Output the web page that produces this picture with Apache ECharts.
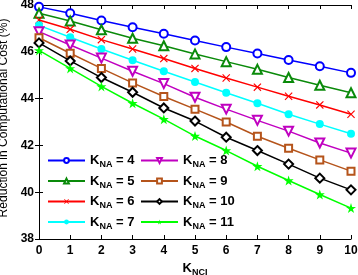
<!DOCTYPE html>
<html lang="en">
<head>
    <meta charset="UTF-8">
    <title>Reduction in Computational Cost</title>
    <script src="https://cdn.jsdelivr.net/npm/echarts@6/dist/echarts.min.js"></script>
    <style>
        html,body{ margin:0; padding:0; background:#fff; }
        #main{ width:358px; height:275px; }
    </style>
</head>
<body>
<div id="main"></div>
<script>
    // x categories and tick labels
    var kNci = [0, 1, 2, 3, 4, 5, 6, 7, 8, 9, 10];
    var yTicks = [38, 40, 42, 44, 46, 48];

    // one array per K_NA curve
    var kna4  = [47.92, 47.65, 47.34, 47.05, 46.77, 46.48, 46.20, 45.93, 45.65, 45.38, 45.10];
    var kna5  = [47.65, 47.32, 46.94, 46.58, 46.26, 45.91, 45.58, 45.25, 44.90, 44.57, 44.25];
    var kna6  = [47.36, 46.96, 46.52, 46.12, 45.71, 45.29, 44.88, 44.49, 44.10, 43.73, 43.33];
    var kna7  = [47.13, 46.62, 46.12, 45.64, 45.17, 44.71, 44.25, 43.80, 43.33, 42.91, 42.50];
    var kna8  = [46.86, 46.29, 45.73, 45.17, 44.64, 44.06, 43.55, 43.07, 42.61, 42.10, 41.67];
    var kna9  = [46.60, 45.94, 45.29, 44.67, 44.09, 43.55, 43.00, 42.39, 41.88, 41.38, 40.90];
    var kna10 = [46.38, 45.61, 44.90, 44.27, 43.60, 43.04, 42.35, 41.78, 41.20, 40.60, 40.10];
    var kna11 = [46.06, 45.29, 44.52, 43.80, 43.12, 42.40, 41.78, 41.11, 40.50, 39.90, 39.32];

    var crossPath = 'path://M1,0L5,4L9,0L10,1L6,5L10,9L9,10L5,6L1,10L0,9L4,5L0,1Z';
    var starPath = 'path://M5,0L6.2,3.6L10,3.6L6.9,5.9L8.1,9.5L5,7.3L1.9,9.5L3.1,5.9L0,3.6L3.8,3.6Z';

    function mk(name, data, color, symbol, size, rotate, filled) {
        return {
            name: name,
            type: 'line',
            data: data,
            symbol: symbol,
            symbolSize: size,
            symbolRotate: rotate || 0,
            showAllSymbol: true,
            lineStyle: { color: color, width: 1.5 },
            itemStyle: filled ? { color: color } : { color: color, borderColor: color, borderWidth: 1.3 },
            emphasis: { disabled: true }
        };
    }

    var series = [
        mk('K4', kna4, '#0000ff', 'emptyCircle', 8),
        mk('K5', kna5, '#0a8a0a', 'emptyTriangle', 9),
        mk('K6', kna6, '#ff0000', crossPath, 8, 0, true),
        mk('K7', kna7, '#00ffff', 'circle', 8, 0, true),
        mk('K8', kna8, '#c000c0', 'emptyTriangle', 9, 180),
        mk('K9', kna9, '#b5541b', 'emptyRect', 7),
        mk('K10', kna10, '#000000', 'emptyDiamond', 9),
        mk('K11', kna11, '#00ff00', starPath, 10, 0, true)
    ];

    var rich = {
        k: { fontSize: 13, fontWeight: 'bold', fontFamily: 'Arial', color: '#000' },
        s: { fontSize: 9, fontWeight: 'bold', fontFamily: 'Arial', color: '#000', padding: [9, 0, 0, 0] },
        v: { fontSize: 13, fontWeight: 'bold', fontFamily: 'Arial', color: '#000' }
    };
    function legendFmt(n) {
        return '{k|K}{s|NA}{v| = ' + n.slice(1) + '}';
    }
    function legendBox(left, names) {
        return {
            orient: 'vertical',
            left: left,
            top: 149,
            itemWidth: 37,
            itemHeight: 6,
            itemGap: 5,
            data: names,
            formatter: legendFmt,
            textStyle: { rich: rich },
            selectedMode: false
        };
    }

    var font = { fontFamily: 'Arial', fontWeight: 'bold', fontSize: 12, color: '#000' };

    var option = {
        animation: false,
        grid: { left: 39, right: 7, top: 5, bottom: 36, outerBoundsMode: 'none' },
        legend: [
            legendBox(42, ['K4', 'K5', 'K6', 'K7']),
            legendBox(135, ['K8', 'K9', 'K10', 'K11'])
        ],
        xAxis: [{
            type: 'value',
            min: 0, max: 10, interval: 1,
            name: '{k|K}{s|NCI}',
            nameLocation: 'middle',
            nameGap: 20,
            nameTextStyle: { rich: rich },
            axisLine: { lineStyle: { color: '#000', width: 1 } },
            axisTick: { inside: true, length: 4, lineStyle: { color: '#000' } },
            axisLabel: Object.assign({ margin: 6 }, font),
            splitLine: { show: false }
        }, {
            type: 'value', position: 'top',
            min: 0, max: 10, interval: 1,
            axisLine: { show: true, lineStyle: { color: '#000', width: 1 } },
            axisTick: { show: true, inside: true, length: 4, lineStyle: { color: '#000' } },
            axisLabel: { show: false },
            splitLine: { show: false }
        }],
        yAxis: [{
            type: 'value',
            min: yTicks[0], max: yTicks[yTicks.length - 1], interval: 2,
            name: 'Reduction in Computational Cost (%)',
            nameLocation: 'middle',
            nameGap: 28,
            nameTextStyle: { fontFamily: 'Arial', fontSize: 12.1, color: '#000', padding: [0, 0, 0, 8] },
            axisLine: { show: true, lineStyle: { color: '#000', width: 1 } },
            axisTick: { inside: true, length: 4, lineStyle: { color: '#000' } },
            axisLabel: Object.assign({ margin: 5 }, font),
            splitLine: { show: false }
        }, {
            type: 'value', position: 'right',
            min: yTicks[0], max: yTicks[yTicks.length - 1], interval: 2,
            axisLine: { show: true, lineStyle: { color: '#000', width: 1 } },
            axisTick: { show: true, inside: true, length: 4, lineStyle: { color: '#000' } },
            axisLabel: { show: false },
            splitLine: { show: false }
        }],
        series: series.map(function (s) {
            s.data = s.data.map(function (v, i) { return [kNci[i], v]; });
            return s;
        })
    };

    var myChart = echarts.init(document.getElementById('main'));
    myChart.setOption(option);
</script>
</body>
</html>
